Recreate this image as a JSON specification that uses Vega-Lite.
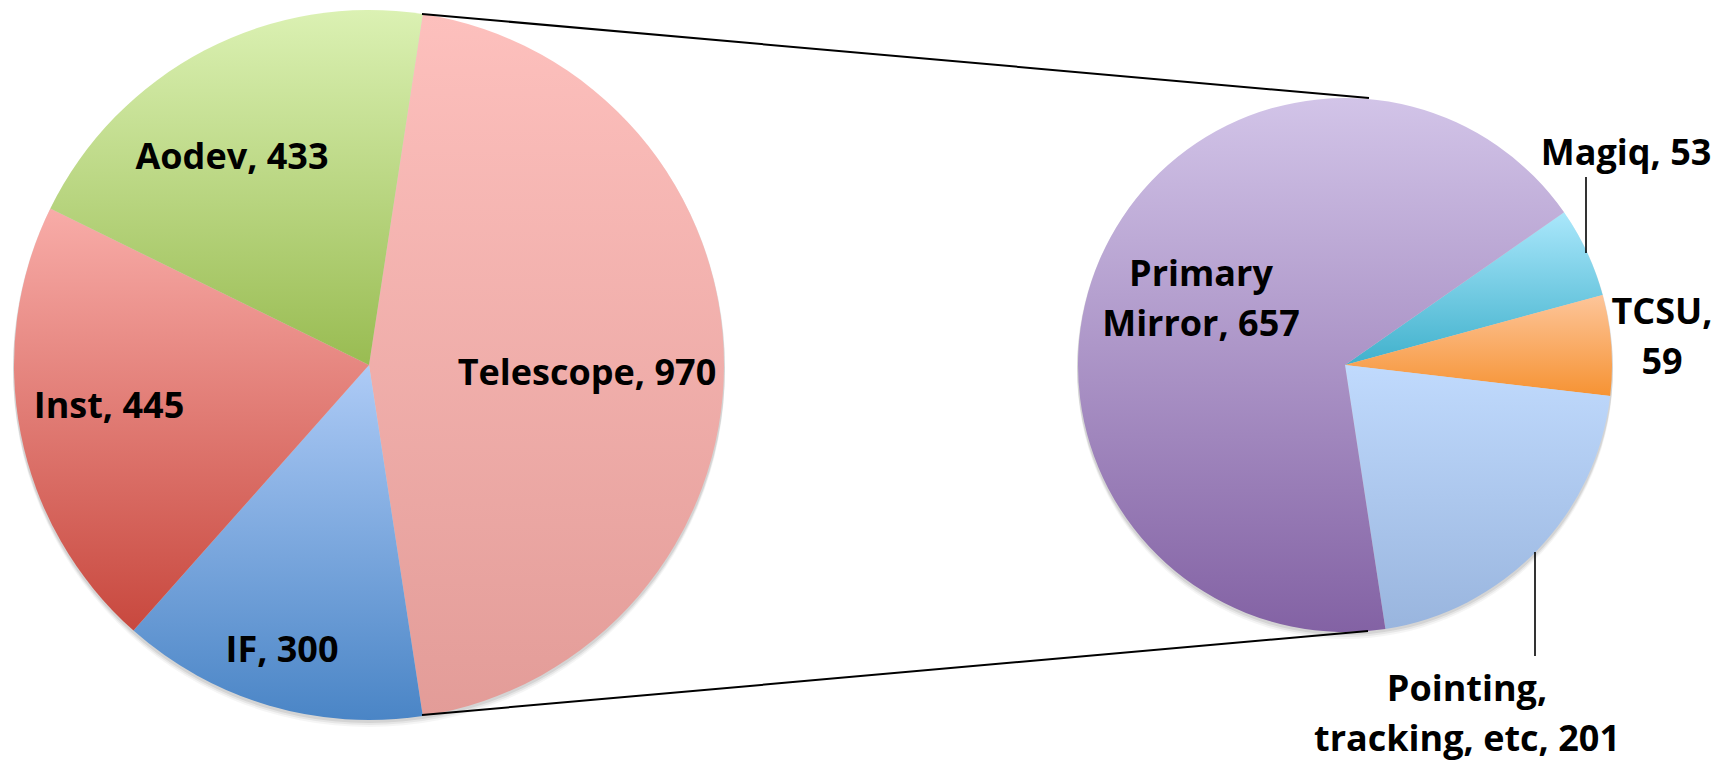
{
  "$schema": "https://vega.github.io/schema/vega-lite/v6.json",
  "width": 1719,
  "height": 761,
  "autosize": {"type": "fit", "contains": "padding"},
  "padding": 0,
  "background": "white",
  "config": {"view": {"stroke": null}},
  "datasets": {
    "slices": [
      {"pie": "main", "name": "Telescope", "value": 970, "seq": 1},
      {"pie": "main", "name": "IF", "value": 300, "seq": 2},
      {"pie": "main", "name": "Inst", "value": 445, "seq": 3},
      {"pie": "main", "name": "Aodev", "value": 433, "seq": 4},
      {"pie": "detail", "name": "Magiq", "value": 53, "seq": 1},
      {"pie": "detail", "name": "TCSU", "value": 59, "seq": 2},
      {"pie": "detail", "name": "Pointing, tracking, etc", "value": 201, "seq": 3},
      {"pie": "detail", "name": "Primary Mirror", "value": 657, "seq": 4}
    ],
    "links": [
      {"kind": "connector", "x": 422, "y": 14, "x2": 1369, "y2": 98},
      {"kind": "connector", "x": 422, "y": 715, "x2": 1368, "y2": 631},
      {"kind": "leader", "x": 1586, "y": 177, "x2": 1586, "y2": 253},
      {"kind": "leader", "x": 1535, "y": 552, "x2": 1535, "y2": 656}
    ],
    "labels": [
      {"lines": ["Telescope, 970"], "x": 587, "y": 385},
      {"lines": ["Aodev, 433"], "x": 232, "y": 169},
      {"lines": ["Inst, 445"], "x": 109, "y": 418},
      {"lines": ["IF, 300"], "x": 282, "y": 662},
      {"lines": ["Primary", "Mirror, 657"], "x": 1201, "y": 286},
      {"lines": ["Magiq, 53"], "x": 1626, "y": 165},
      {"lines": ["TCSU,", "59"], "x": 1662, "y": 324},
      {"lines": ["Pointing,", "tracking, etc, 201"], "x": 1467, "y": 701}
    ]
  },
  "layer": [
    {
      "data": {"name": "slices"},
      "encoding": {
        "x": {"field": "pie", "type": "nominal", "scale": {"type": "point", "domain": ["main", "detail"], "range": [369, 1345], "padding": 0}, "axis": null},
        "y": {"field": "pie", "type": "nominal", "scale": {"type": "point", "domain": ["main", "detail"], "range": [365, 365], "padding": 0}, "axis": null}
      },
      "layer": [
        {
          "transform": [{"aggregate": [{"op": "sum", "field": "value", "as": "total"}], "groupby": ["pie"]}],
          "layer": [
            {"transform": [{"filter": "datum.pie === 'main'"}], "mark": {"type": "arc", "outerRadius": 356, "fill": "black", "opacity": 0.04}, "encoding": {"yOffset": {"value": 6}}},
            {"transform": [{"filter": "datum.pie === 'main'"}], "mark": {"type": "arc", "outerRadius": 356, "fill": "black", "opacity": 0.06}, "encoding": {"yOffset": {"value": 4}}},
            {"transform": [{"filter": "datum.pie === 'main'"}], "mark": {"type": "arc", "outerRadius": 356, "fill": "black", "opacity": 0.08}, "encoding": {"yOffset": {"value": 2}}},
            {"transform": [{"filter": "datum.pie === 'detail'"}], "mark": {"type": "arc", "outerRadius": 268, "fill": "black", "opacity": 0.04}, "encoding": {"yOffset": {"value": 6}}},
            {"transform": [{"filter": "datum.pie === 'detail'"}], "mark": {"type": "arc", "outerRadius": 268, "fill": "black", "opacity": 0.06}, "encoding": {"yOffset": {"value": 4}}},
            {"transform": [{"filter": "datum.pie === 'detail'"}], "mark": {"type": "arc", "outerRadius": 268, "fill": "black", "opacity": 0.08}, "encoding": {"yOffset": {"value": 2}}}
          ]
        },
        {
          "transform": [{"filter": "datum.pie === 'main'"}],
          "mark": {"type": "arc", "outerRadius": 355},
          "encoding": {
            "theta": {"field": "value", "type": "quantitative", "stack": true, "scale": {"range": [0.1521, 6.4353]}},
            "order": {"field": "seq", "type": "quantitative"},
            "fill": {
              "condition": [
                {"test": "datum.name === 'Telescope'", "value": {"gradient": "linear", "x1": 0, "y1": 0, "x2": 0, "y2": 1, "stops": [{"offset": 0, "color": "#fdc0bd"}, {"offset": 1, "color": "#e39c98"}]}},
                {"test": "datum.name === 'IF'", "value": {"gradient": "linear", "x1": 0, "y1": 0, "x2": 0, "y2": 1, "stops": [{"offset": 0, "color": "#aecbf6"}, {"offset": 1, "color": "#4a85c6"}]}},
                {"test": "datum.name === 'Inst'", "value": {"gradient": "linear", "x1": 0, "y1": 0, "x2": 0, "y2": 1, "stops": [{"offset": 0, "color": "#f8aca8"}, {"offset": 1, "color": "#c8483e"}]}}
              ],
              "value": {"gradient": "linear", "x1": 0, "y1": 0, "x2": 0, "y2": 1, "stops": [{"offset": 0, "color": "#dbf1b3"}, {"offset": 1, "color": "#99bc52"}]}
            }
          }
        },
        {
          "transform": [{"filter": "datum.pie === 'detail'"}],
          "mark": {"type": "arc", "outerRadius": 267},
          "encoding": {
            "theta": {"field": "value", "type": "quantitative", "stack": true, "scale": {"range": [0.9621, 7.2453]}},
            "order": {"field": "seq", "type": "quantitative"},
            "fill": {
              "condition": [
                {"test": "datum.name === 'Magiq'", "value": {"gradient": "linear", "x1": 0, "y1": 0, "x2": 0, "y2": 1, "stops": [{"offset": 0, "color": "#aae7fb"}, {"offset": 1, "color": "#40b1cc"}]}},
                {"test": "datum.name === 'TCSU'", "value": {"gradient": "linear", "x1": 0, "y1": 0, "x2": 0, "y2": 1, "stops": [{"offset": 0, "color": "#fdc59a"}, {"offset": 1, "color": "#f69333"}]}},
                {"test": "datum.name === 'Pointing, tracking, etc'", "value": {"gradient": "linear", "x1": 0, "y1": 0, "x2": 0, "y2": 1, "stops": [{"offset": 0, "color": "#c0dafd"}, {"offset": 1, "color": "#99b5de"}]}}
              ],
              "value": {"gradient": "linear", "x1": 0, "y1": 0, "x2": 0, "y2": 1, "stops": [{"offset": 0, "color": "#d2c4e8"}, {"offset": 1, "color": "#8362a4"}]}
            }
          }
        }
      ],
      "resolve": {"scale": {"theta": "independent"}}
    },
    {
      "data": {"name": "links"},
      "mark": {"type": "rule", "stroke": "black"},
      "encoding": {
        "x": {"field": "x", "type": "quantitative", "scale": {"domain": [0, 1719], "nice": false, "zero": false}, "axis": null},
        "y": {"field": "y", "type": "quantitative", "scale": {"domain": [0, 761], "reverse": true, "nice": false, "zero": false}, "axis": null},
        "x2": {"field": "x2"},
        "y2": {"field": "y2"},
        "strokeWidth": {"condition": {"test": "datum.kind === 'leader'", "value": 1.6}, "value": 2}
      }
    },
    {
      "data": {"name": "labels"},
      "mark": {"type": "text", "font": "Open Sans", "fontWeight": "bold", "fontSize": 36, "lineHeight": 50, "align": "center", "baseline": "alphabetic", "color": "black"},
      "encoding": {
        "x": {"field": "x", "type": "quantitative", "scale": {"domain": [0, 1719], "nice": false, "zero": false}, "axis": null},
        "y": {"field": "y", "type": "quantitative", "scale": {"domain": [0, 761], "reverse": true, "nice": false, "zero": false}, "axis": null},
        "text": {"field": "lines"}
      }
    }
  ],
  "resolve": {"scale": {"x": "independent", "y": "independent"}}
}
